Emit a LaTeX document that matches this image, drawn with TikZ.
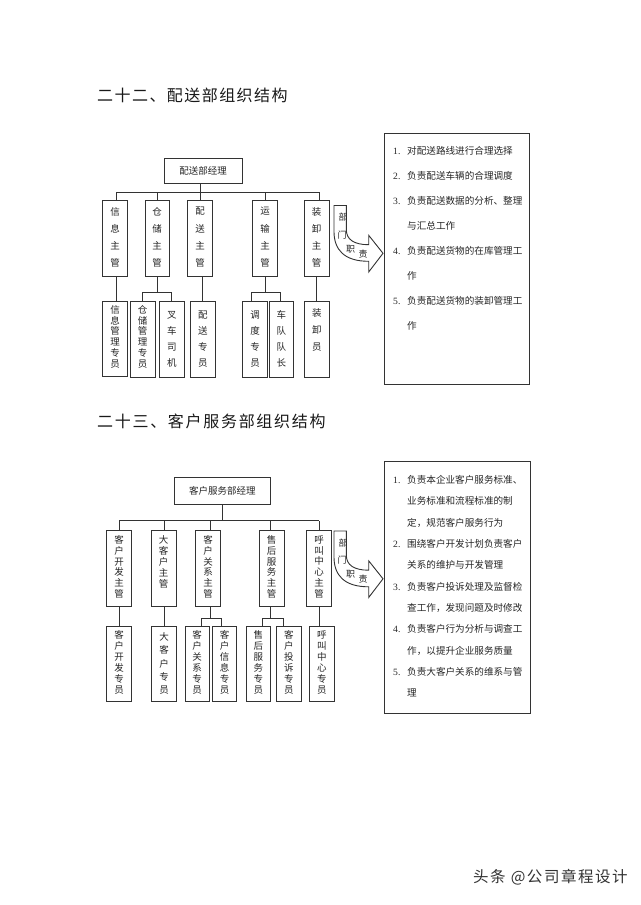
\documentclass[tikz,border=0pt]{standalone}
\usepackage{fontspec}
\setmainfont{Liberation Serif}
\newfontfamily\cjk{Noto Sans CJK SC}
\newfontfamily\cjkA[LetterSpace=9]{Noto Sans CJK SC}
\newfontfamily\cjkB[LetterSpace=10.6]{Noto Sans CJK SC}
\newfontfamily\cjkW[LetterSpace=10]{Noto Sans CJK SC}
\newcommand\Bx[5]{%
  \pgfmathsetmacro\bw{#3-#2}\pgfmathsetmacro\bh{#5-#4}%
  \pgfmathsetmacro\bcx{(#2+#3)/2}\pgfmathsetmacro\bcy{(#4+#5)/2}%
  \node[box,minimum width=\bw pt,minimum height=\bh pt] (#1) at (\bcx,\bcy) {};}
\newcommand\Vt[5]{\node[vtext,font=\cjk\fontsize{9.5}{#4}\selectfont] (#1) at (#2,#3) {#5};}
\tikzset{
  box/.style={draw=black!80,line width=0.9pt,fill=white,inner sep=0pt,outer sep=0pt},
  vtext/.style={align=center,inner sep=0pt,text=black!85},
  ln/.style={draw=black!80,line width=0.9pt},
  item/.style={anchor=base west,inner sep=0pt,font=\cjk\fontsize{9.6}{12}\selectfont,text=black!85},
  atext/.style={inner sep=0pt,font=\cjk\fontsize{9}{10}\selectfont,text=black!85},
}
\begin{document}
\begin{tikzpicture}[x=1pt,y=-1pt]
\useasboundingbox[fill=white] (0,0) rectangle (640,905);

% ---------- titles ----------
\node[anchor=west,inner sep=0pt,font=\cjkA\fontsize{16}{18}\selectfont,text=black!90] (title1) at (97,95) {二十二、配送部组织结构};
\node[anchor=west,inner sep=0pt,font=\cjkB\fontsize{16}{18}\selectfont,text=black!90] (title2) at (97,421.7) {二十三、客户服务部组织结构};

% ---------- top tree ----------
\Bx{m1}{164}{242}{158.3}{183.3}
\node[inner sep=0pt,font=\cjk\fontsize{9.5}{11}\selectfont,text=black!85] (m1t) at (m1) {配送部经理};
\Bx{a1}{102.3}{127.7}{200.7}{276}
\Bx{a2}{145}{169}{200.7}{276}
\Bx{a3}{187.7}{212.3}{200.7}{276.5}
\Bx{a4}{252.7}{277.3}{200.7}{276}
\Bx{a5}{304.3}{329}{200.7}{276}
\Vt{a1t}{115}{237.3}{17.2}{信\\息\\主\\管}
\Vt{a2t}{157}{237.3}{17.2}{仓\\储\\主\\管}
\Vt{a3t}{200}{237.3}{17.2}{配\\送\\主\\管}
\Vt{a4t}{265}{237.3}{17.2}{运\\输\\主\\管}
\Vt{a5t}{316.7}{237.3}{17.2}{装\\卸\\主\\管}
\Bx{b1}{102.3}{127.7}{301}{376.7}
\Bx{b2}{130}{155}{301}{377}
\Bx{b3}{159.3}{184.3}{301}{377}
\Bx{b4}{190.3}{215.3}{301}{377}
\Bx{b5}{242.7}{267.7}{301}{377}
\Bx{b6}{269}{293.7}{301}{377}
\Bx{b7}{304.3}{329.3}{301}{377}
\Vt{b1t}{115}{336.7}{10.7}{信\\息\\管\\理\\专\\员}
\Vt{b2t}{142.5}{336.7}{10.7}{仓\\储\\管\\理\\专\\员}
\Vt{b3t}{171.8}{339}{16}{叉\\车\\司\\机}
\Vt{b4t}{202.8}{339}{16}{配\\送\\专\\员}
\Vt{b5t}{255.2}{339}{16}{调\\度\\专\\员}
\Vt{b6t}{281.4}{339}{16}{车\\队\\队\\长}
\Vt{b7t}{316.8}{330}{17}{装\\卸\\员}

\coordinate (bus1) at (0,192.3);
\coordinate (sb1) at (0,292.3);
\draw[ln] ([xshift=-3pt]m1.south) -- ([xshift=-3pt]m1.south |- bus1);
\draw[ln] ([xshift=1pt]a1.north |- bus1) -- ([xshift=2.3pt]a5.north |- bus1);
\foreach \n/\s in {a1/1,a2/0.7,a3/0,a4/0,a5/2.3}
  \draw[ln] ([xshift=\s pt]\n.north) -- ([xshift=\s pt]\n.north |- bus1);
\draw[ln] ([xshift=1pt]b1.north) -- ([xshift=1pt]b1.north |- a1.south);
\draw[ln] ([xshift=0.7pt]a2.south) -- ([xshift=0.7pt]a2.south |- sb1);
\draw[ln] (b2.north) -- (b2.north |- sb1) -- (b3.north |- sb1) -- (b3.north);
\draw[ln] (b4.north) -- (b4.north |- a3.south);
\draw[ln] (a4.south) -- (a4.south |- sb1);
\draw[ln] ([xshift=-3.5pt]b5.north) -- ([xshift=-3.5pt]b5.north |- sb1) -- ([xshift=-1pt]b6.north |- sb1) -- ([xshift=-1pt]b6.north);
\draw[ln] (b7.north) -- (b7.north |- a5.south);

% ---------- top duty box ----------
\Bx{r1}{384.3}{529.7}{133.3}{384.3}
\foreach \t [count=\i from 0] in {
  {\makebox[14pt][l]{\rmfamily 1.}对配送路线进行合理选择},
  {\makebox[14pt][l]{\rmfamily 2.}负责配送车辆的合理调度},
  {\makebox[14pt][l]{\rmfamily 3.}负责配送数据的分析、整理},
  {\hspace*{14pt}与汇总工作},
  {\makebox[14pt][l]{\rmfamily 4.}负责配送货物的在库管理工},
  {\hspace*{14pt}作},
  {\makebox[14pt][l]{\rmfamily 5.}负责配送货物的装卸管理工},
  {\hspace*{14pt}作}}
  \node[item] (ta\i) at (393,{154.35+25.05*\i}) {\t};

% ---------- top arrow ----------
\begin{scope}[shift={(334,205.5)}]
\draw[ln,fill=white] (0,0) -- (12.3,0) -- (12.3,24)
  .. controls (12.3,34) and (20,39.2) .. (34.7,39.2) -- (34.7,29.8) -- (49,47.8)
  -- (34.7,66.5) -- (34.7,55.8) .. controls (10,55.8) and (0,44) .. (0,26) -- cycle;
\node[atext] (ax1) at (9,12) {部};
\node[atext] (ax2) at (8,29.2) {门};
\node[atext] (ax3) at (16.7,43.5) {职};
\node[atext] (ax4) at (29,48.5) {责};
\end{scope}

% ---------- bottom tree ----------
\Bx{m2}{174}{270.7}{477.3}{504.3}
\node[inner sep=0pt,font=\cjk\fontsize{9.5}{11}\selectfont,text=black!85] (m2t) at (m2) {客户服务部经理};
\Bx{c1}{106.7}{131.7}{530}{606}
\Bx{c2}{151}{176}{530}{606}
\Bx{c3}{195.7}{220.7}{530}{606}
\Bx{c4}{259}{284.3}{530}{606}
\Bx{c5}{306.7}{331.7}{530}{606}
\Vt{c1t}{119.2}{566.8}{10.7}{客\\户\\开\\发\\主\\管}
\Vt{c2t}{163.5}{562}{11}{大\\客\\户\\主\\管}
\Vt{c3t}{208.2}{566.8}{10.7}{客\\户\\关\\系\\主\\管}
\Vt{c4t}{271.6}{566.8}{10.7}{售\\后\\服\\务\\主\\管}
\Vt{c5t}{319.2}{566.8}{10.7}{呼\\叫\\中\\心\\主\\管}
\Bx{d1}{106.7}{131.7}{626.7}{701.7}
\Bx{d2}{151.7}{176.7}{626.7}{701.7}
\Bx{d3}{185}{209.3}{626.7}{701.7}
\Bx{d4}{212.3}{236.7}{626.7}{701.7}
\Bx{d5}{246}{270.7}{626.7}{701.7}
\Bx{d6}{276.7}{301}{626.7}{701.7}
\Bx{d7}{309.3}{334.3}{626.7}{701.7}
\Vt{d1t}{119.2}{662.5}{11}{客\\户\\开\\发\\专\\员}
\Vt{d2t}{164.2}{663.5}{13.25}{大\\客\\户\\专\\员}
\Vt{d3t}{197.2}{662.5}{11}{客\\户\\关\\系\\专\\员}
\Vt{d4t}{224.5}{662.5}{11}{客\\户\\信\\息\\专\\员}
\Vt{d5t}{258.4}{662.5}{11}{售\\后\\服\\务\\专\\员}
\Vt{d6t}{288.9}{662.5}{11}{客\\户\\投\\诉\\专\\员}
\Vt{d7t}{321.8}{662.5}{11}{呼\\叫\\中\\心\\专\\员}

\coordinate (bus2) at (0,520.7);
\coordinate (sb2) at (0,618.3);
\draw[ln] (m2.south) -- (m2.south |- bus2);
\draw[ln] (c1.north |- bus2) -- (c5.north |- bus2);
\foreach \n/\s in {c1/0,c2/0.8,c3/1.8,c4/-0.9,c5/0}
  \draw[ln] ([xshift=\s pt]\n.north) -- ([xshift=\s pt]\n.north |- bus2);
\draw[ln] (d1.north) -- (d1.north |- c1.south);
\draw[ln] (d2.north) -- (d2.north |- c2.south);
\draw[ln] ([xshift=1.8pt]c3.south) -- ([xshift=1.8pt]c3.south |- sb2);
\draw[ln] ([xshift=3.8pt]d3.north) -- ([xshift=3.8pt]d3.north |- sb2) -- ([xshift=-2.8pt]d4.north |- sb2) -- ([xshift=-2.8pt]d4.north);
\draw[ln] ([xshift=-0.9pt]c4.south) -- ([xshift=-0.9pt]c4.south |- sb2);
\draw[ln] ([xshift=4.3pt]d5.north) -- ([xshift=4.3pt]d5.north |- sb2) -- ([xshift=-5.5pt]d6.north |- sb2) -- ([xshift=-5.5pt]d6.north);
\draw[ln] ([xshift=-2.8pt]d7.north) -- ([xshift=-2.8pt]d7.north |- c5.south);

% ---------- bottom duty box ----------
\Bx{r2}{384.3}{530}{461}{713.3}
\foreach \t [count=\i from 0] in {
  {\makebox[14pt][l]{\rmfamily 1.}负责本企业客户服务标准、},
  {\hspace*{14pt}业务标准和流程标准的制},
  {\hspace*{14pt}定，规范客户服务行为},
  {\makebox[14pt][l]{\rmfamily 2.}围绕客户开发计划负责客户},
  {\hspace*{14pt}关系的维护与开发管理},
  {\makebox[14pt][l]{\rmfamily 3.}负责客户投诉处理及监督检},
  {\hspace*{14pt}查工作，发现问题及时修改},
  {\makebox[14pt][l]{\rmfamily 4.}负责客户行为分析与调查工},
  {\hspace*{14pt}作，以提升企业服务质量},
  {\makebox[14pt][l]{\rmfamily 5.}负责大客户关系的维系与管},
  {\hspace*{14pt}理}}
  \node[item] (tb\i) at (393,{483.65+21.3*\i}) {\t};

% ---------- bottom arrow ----------
\begin{scope}[shift={(334,531)}]
\draw[ln,fill=white] (0,0) -- (12.3,0) -- (12.3,24)
  .. controls (12.3,34) and (20,39.2) .. (34.7,39.2) -- (34.7,29.8) -- (49,47.8)
  -- (34.7,66.5) -- (34.7,55.8) .. controls (10,55.8) and (0,44) .. (0,26) -- cycle;
\node[atext] (bx1) at (9,12) {部};
\node[atext] (bx2) at (8,29.2) {门};
\node[atext] (bx3) at (16.7,43.5) {职};
\node[atext] (bx4) at (29,48.5) {责};
\end{scope}

% ---------- watermark ----------
\node[anchor=west,inner sep=0pt,font=\cjkW\fontsize{15.5}{17}\selectfont,text=black!80] (wm) at (473,877) {头条 @公司章程设计};
\end{tikzpicture}
\end{document}
